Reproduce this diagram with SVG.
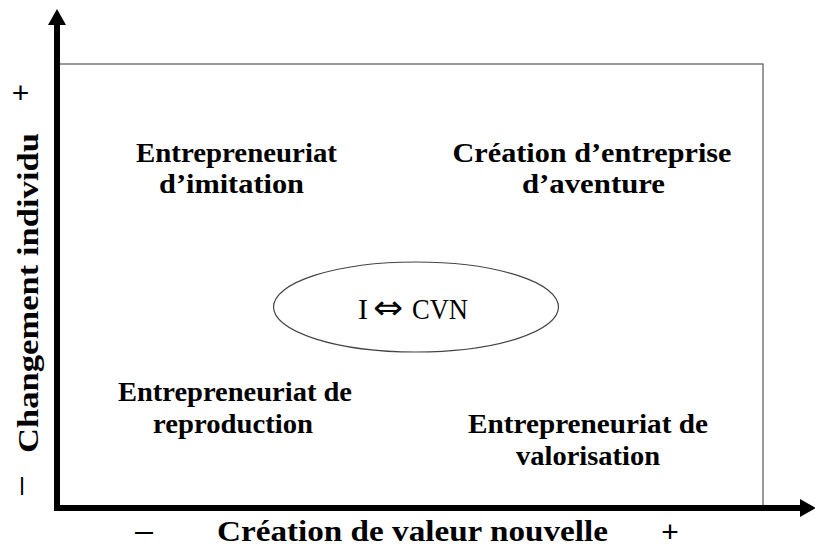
<svg xmlns="http://www.w3.org/2000/svg" width="815" height="548" viewBox="0 0 815 548">
<style>
.q{font-family:"Liberation Serif","Times New Roman",serif;font-weight:bold;font-size:27px;fill:#000;text-anchor:middle}
.ax{font-family:"Liberation Serif","Times New Roman",serif;font-weight:bold;font-size:29px;fill:#000;text-anchor:middle}
.sg{font-family:"Liberation Sans",Arial,sans-serif;font-size:30px;fill:#000;text-anchor:middle}
.axis{stroke:#000;stroke-width:6;fill:none;marker-end:url(#ah)}
</style>
<defs>
<marker id="ah" markerWidth="17" markerHeight="18" refX="0" refY="9" orient="auto" markerUnits="userSpaceOnUse"><path d="M0,0 L16,9 L0,18 Z" fill="#000"/></marker>
</defs>
<rect id="frame" x="57" y="64" width="706" height="444" fill="none" stroke="#555" stroke-width="1.2"/>
<g id="connectors">
<line class="axis" x1="57" y1="511" x2="57" y2="25"/>
<line class="axis" x1="54" y1="508" x2="800" y2="508"/>
</g>
<g id="center">
<ellipse cx="416" cy="307" rx="142.5" ry="45" fill="none" stroke="#444" stroke-width="1.2"/>
<text y="319" font-family="'Liberation Serif','Times New Roman',serif" font-size="30"><tspan x="358">I</tspan><tspan x="373" font-family="'DejaVu Sans',sans-serif" font-size="34" textLength="30" lengthAdjust="spacingAndGlyphs">⇔</tspan><tspan x="412" textLength="56" lengthAdjust="spacingAndGlyphs">CVN</tspan></text>
</g>
<g id="q-imitation"><text class="q" x="236.5" y="162" textLength="201" lengthAdjust="spacingAndGlyphs">Entrepreneuriat</text><text class="q" x="231.5" y="193" textLength="145" lengthAdjust="spacingAndGlyphs">d’imitation</text></g>
<g id="q-aventure"><text class="q" x="592" y="162" textLength="279" lengthAdjust="spacingAndGlyphs">Création  d’entreprise</text><text class="q" x="593.5" y="193" textLength="143" lengthAdjust="spacingAndGlyphs">d’aventure</text></g>
<g id="q-reproduction"><text class="q" x="235" y="401" textLength="234" lengthAdjust="spacingAndGlyphs">Entrepreneuriat de</text><text class="q" x="233" y="433" textLength="160" lengthAdjust="spacingAndGlyphs">reproduction</text></g>
<g id="q-valorisation"><text class="q" x="588" y="433" textLength="240" lengthAdjust="spacingAndGlyphs">Entrepreneuriat de</text><text class="q" x="588" y="465" textLength="144" lengthAdjust="spacingAndGlyphs">valorisation</text></g>
<g id="y-label">
<text class="ax" transform="translate(38,293) rotate(-90)" x="0" y="0" textLength="320" lengthAdjust="spacingAndGlyphs">Changement individu</text>
<text class="sg" x="20.5" y="103">+</text>
<text class="sg" transform="translate(20,486) rotate(-90)" x="0" y="10" textLength="18" lengthAdjust="spacingAndGlyphs">–</text>
</g>
<g id="x-label">
<text class="ax" x="412.5" y="541" textLength="391" lengthAdjust="spacingAndGlyphs">Création de valeur nouvelle</text>
<text class="sg" x="144" y="541" textLength="18" lengthAdjust="spacingAndGlyphs">–</text>
<text class="sg" x="670" y="542">+</text>
</g>
</svg>
